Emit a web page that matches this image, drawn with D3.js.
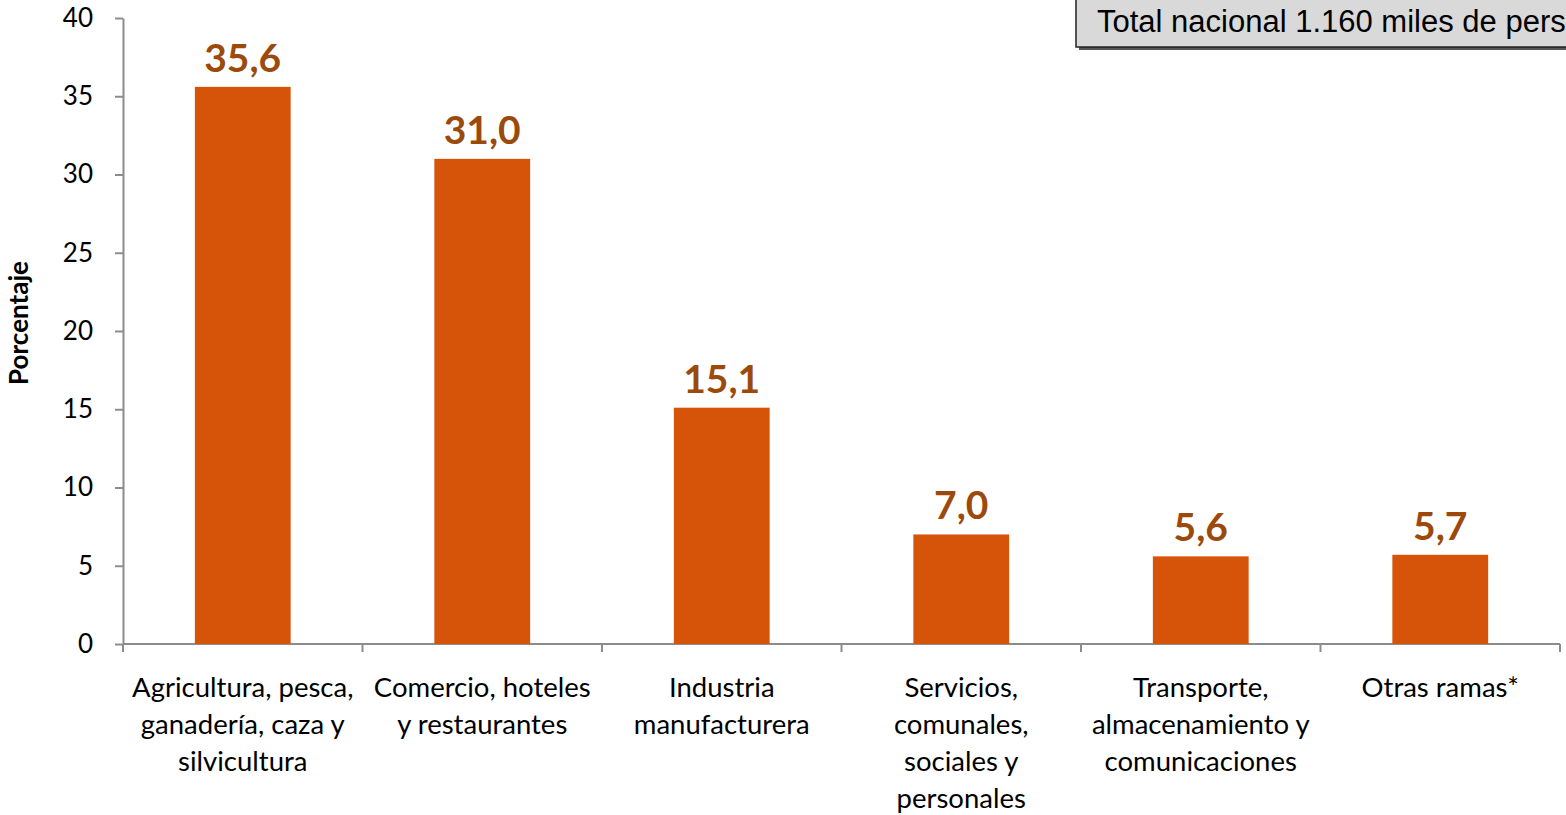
<!DOCTYPE html>
<html><head><meta charset="utf-8">
<script src="https://cdn.jsdelivr.net/npm/d3@7"></script>
<style>body{margin:0;background:#fff;overflow:hidden}svg{display:block}</style>
</head><body>
<svg id="c" width="1566" height="815"></svg>
<script>
const categories = [
  ["Agricultura, pesca,", "ganadería, caza y", "silvicultura"],
  ["Comercio, hoteles", "y restaurantes"],
  ["Industria", "manufacturera"],
  ["Servicios,", "comunales,", "sociales y", "personales"],
  ["Transporte,", "almacenamiento y", "comunicaciones"],
  ["Otras ramas*"]
];
const values = [35.6, 31.0, 15.1, 7.0, 5.6, 5.7];
const valueLabels = ["35,6", "31,0", "15,1", "7,0", "5,6", "5,7"];
const yTicks = [0, 5, 10, 15, 20, 25, 30, 35, 40];
const yTitle = "Porcentaje";
const boxText = "Total nacional 1.160 miles de personas";

const svg = d3.select("#c");
const FONT = "Lato, 'Open Sans', sans-serif";
const x = d3.scaleBand().domain(d3.range(values.length)).range([123, 1560]).paddingInner(0.6).paddingOuter(0.3);
const y = d3.scaleLinear().domain([0, 40]).range([644, 18]);

// y axis
const yAxis = svg.append("g").attr("transform", "translate(123,0)")
  .call(d3.axisLeft(y).tickValues(yTicks).tickSize(8).tickPadding(22).tickSizeOuter(0));
yAxis.select(".domain").attr("stroke", "#8c8c8c").attr("stroke-width", 2);
yAxis.selectAll(".tick line").attr("stroke", "#8c8c8c").attr("stroke-width", 2);
yAxis.selectAll("text").attr("font-family", FONT).attr("font-size", 26).attr("fill", "#000");

// x axis
const xg = svg.append("g");
xg.append("line").attr("x1", 123).attr("x2", 1560).attr("y1", y(0)).attr("y2", y(0))
  .attr("stroke", "#8c8c8c").attr("stroke-width", 2);
const tickPos = d3.range(values.length + 1).map(i => 123 + i * (1560 - 123) / values.length);
xg.selectAll("line.t").data(tickPos).join("line").attr("class", "t")
  .attr("x1", d => d).attr("x2", d => d).attr("y1", y(0)).attr("y2", y(0) + 8)
  .attr("stroke", "#8c8c8c").attr("stroke-width", 2);

// bars
svg.selectAll("rect.bar").data(values).join("rect").attr("class", "bar")
  .attr("x", (d, i) => x(i)).attr("width", x.bandwidth())
  .attr("y", d => y(d)).attr("height", d => y(0) - y(d))
  .attr("fill", "#d6530a");

// value labels
svg.selectAll("text.val").data(values).join("text").attr("class", "val")
  .attr("x", (d, i) => x(i) + x.bandwidth() / 2).attr("y", d => y(d) - 15)
  .attr("text-anchor", "middle").attr("font-family", FONT).attr("font-weight", "bold")
  .attr("font-size", 39).attr("fill", "#9c4a0c")
  .text((d, i) => valueLabels[i]);

// category labels
const cl = svg.selectAll("text.cat").data(categories).join("text").attr("class", "cat")
  .attr("font-family", FONT).attr("font-size", 27.5).attr("fill", "#000").attr("text-anchor", "middle");
cl.each(function (lines, i) {
  const t = d3.select(this);
  lines.forEach((l, j) => {
    t.append("tspan").attr("x", x(i) + x.bandwidth() / 2).attr("y", 697 + j * 37).text(l);
  });
});

// y title
svg.append("text").attr("transform", "translate(28,323) rotate(-90)")
  .attr("text-anchor", "middle").attr("font-family", FONT).attr("font-weight", "bold")
  .attr("font-size", 26).attr("fill", "#000").text(yTitle);

// box
svg.append("rect").attr("x", 1079).attr("y", -4).attr("width", 520).attr("height", 54).attr("fill", "#555");
svg.append("rect").attr("x", 1076).attr("y", -6).attr("width", 520).attr("height", 53)
  .attr("fill", "#d9d9d9").attr("stroke", "#222").attr("stroke-width", 1.5);
svg.append("text").attr("x", 1097).attr("y", 32).attr("font-family", "'Liberation Sans', Arial, sans-serif")
  .attr("font-size", 31).attr("fill", "#000").text(boxText);
</script>
</body></html>
